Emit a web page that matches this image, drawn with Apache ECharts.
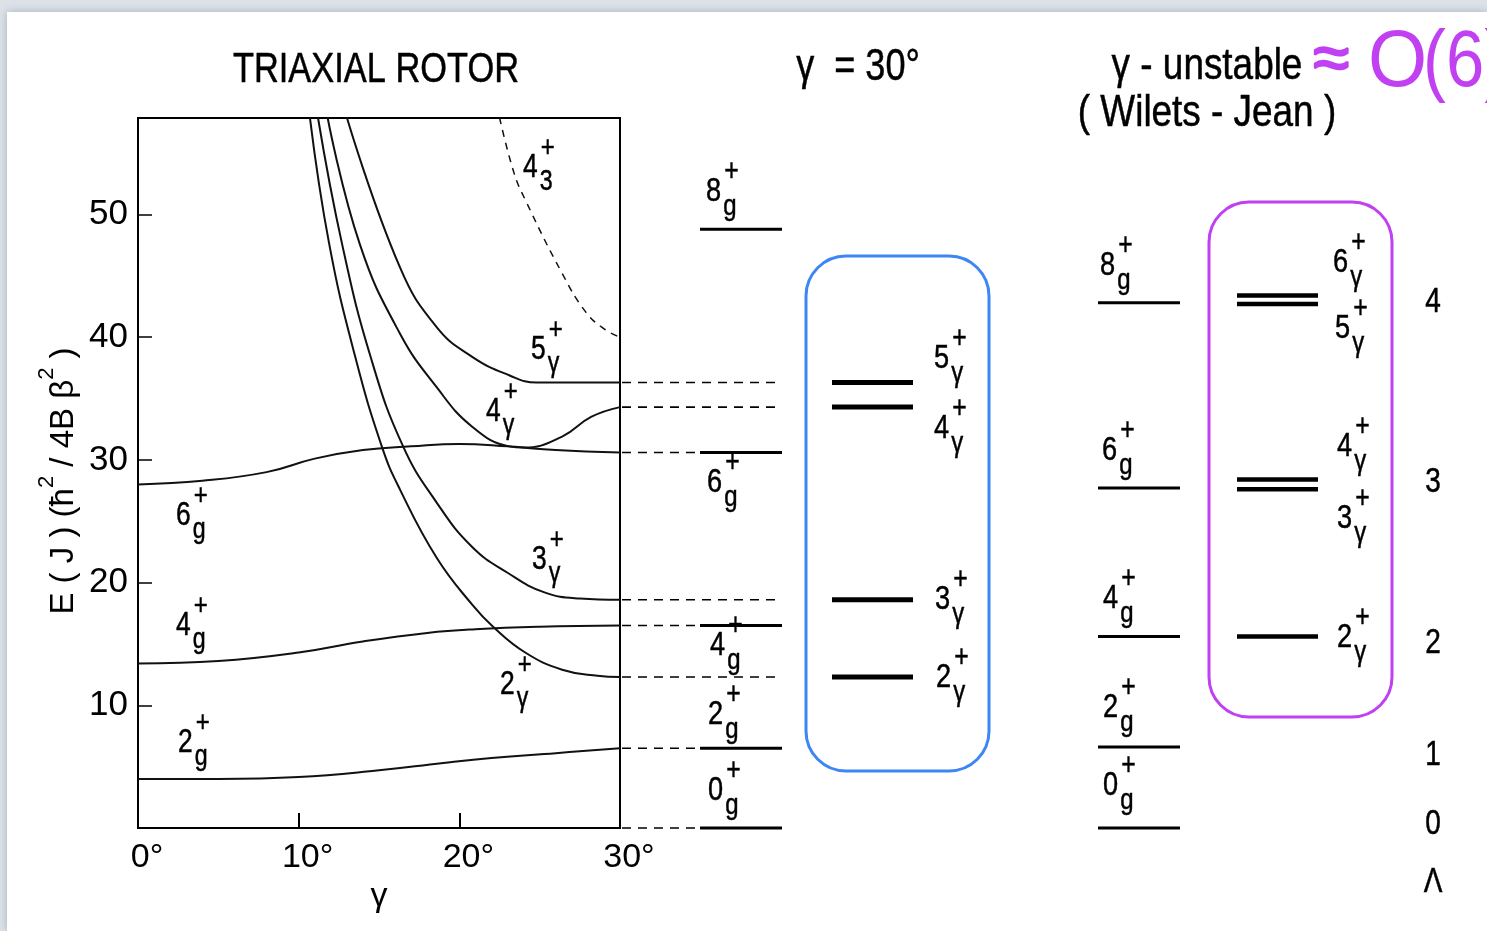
<!DOCTYPE html>
<html>
<head>
<meta charset="utf-8">
<script src="https://cdn.jsdelivr.net/npm/echarts@6/dist/echarts.min.js"></script>
<style>
  html, body { margin: 0; padding: 0; background: #dde2e9; }
  #chart { width: 1487px; height: 931px; }
</style>
</head>
<body>
<div id="chart"></div>
<script>
// ---------------- data ----------------
const gammaTicks = [0, 10, 20, 30];
const energyTicks = [10, 20, 30, 40, 50];

// Triaxial rotor: E(J) in units of hbar^2/4B beta^2 as a function of gamma (deg)
const ground2 = [[0, 4.0], [5, 4.0], [10, 4.15], [15, 4.7], [19, 5.3], [22, 5.7], [26, 6.1], [30, 6.5]];
const ground4 = [[0, 13.4], [5, 13.6], [10, 14.3], [14, 15.2], [18, 15.9], [21, 16.2], [25, 16.4], [30, 16.5]];
const ground6 = [[0, 28.0], [4, 28.3], [8, 29.0], [11, 30.1], [14, 30.8], [17, 31.1], [20, 31.3], [23, 31.1], [26, 30.8], [30, 30.6]];
const gamma2 = [[10.7, 57.9], [11.9, 47.6], [13.5, 38.5], [15.2, 31.0], [16.3, 27.6], [18.6, 22.0], [20.8, 18.2], [22.1, 16.4], [24.1, 14.3], [26.4, 12.9], [28.6, 12.4], [30, 12.3]];
const gamma3 = [[11.2, 57.9], [12.7, 47.6], [14.5, 38.3], [16.5, 31.1], [18.6, 26.5], [20.8, 22.9], [23.0, 20.8], [25.3, 19.2], [27.5, 18.7], [30, 18.6]];
const gamma4 = [[11.8, 57.9], [13.8, 47.6], [16.3, 40.3], [18.6, 35.9], [20.8, 32.7], [23.1, 31.1], [24.0, 31.0], [26.4, 31.9], [28.2, 33.5], [30, 34.3]];
const gamma5 = [[13.0, 57.9], [16.3, 45.7], [18.6, 40.8], [20.8, 38.4], [23.1, 36.9], [24.8, 36.3], [30, 36.3]];
const third4 = [[22.5, 57.9], [23.4, 53.4], [24.1, 51.2], [26.4, 45.2], [27.9, 42.0], [29.1, 40.6], [30, 40.0]];

// Levels at gamma = 30 deg
const rotorGroundJ = [0, 2, 4, 6, 8];
const rotorGroundE = [0, 6.5, 16.5, 30.6, 48.8];
const rotorGammaJ = [2, 3, 4, 5];
const rotorGammaE = [12.3, 18.6, 34.3, 36.3];

// gamma-unstable (Wilets-Jean) levels
const unstableGroundJ = [0, 2, 4, 6, 8];
const unstableGroundE = [0, 6.6, 15.6, 27.7, 42.8];
const unstableGammaJ = [2, 3, 4, 5, 6];
const unstableGammaE = [15.6, 27.6, 28.4, 42.7, 43.4];
const tauLabels = ['0', '1', '2', '3', '4', 'Λ'];

// ---------------- layout ----------------
const FONT = "'Liberation Sans', Arial, sans-serif";
const NARROW = 0.8;            // horizontal squeeze for a narrow typeface look
const E_MAX = 57.86;
const PURPLE = '#c040f2';
const BLUE = '#3d87f4';

// horizontal extents (pixels from the right edge of the rotor frame) of the level columns
const COL = { conn: 2, gL: 80, gR: 162, yL: 212, yR: 293, uGL: 478, uGR: 560, uYL: 617, uYR: 698 };
const SEG = [
  { w: 3 },                 // ground-band level
  { w: 1.6, dash: [9, 7] }, // dashed connector
  { w: 5 },                 // gamma-band level (gamma = 30)
  { w: 4.5 }                // gamma-band level (gamma-unstable)
];

// label anchors: [left x of the spin digit, vertical centre of the digit]
const leftLabelPos = {
  third4: [523, 167], gamma5: [531, 349], gamma4: [486, 411], ground6: [176, 515],
  ground4: [176, 625], ground2: [178, 742], gamma3: [532, 559], gamma2: [500, 684]
};
const rotorGroundPos = [[708, 790], [708, 714], [710, 645], [707, 482], [706, 191]];
const rotorGammaPos = [[936, 677], [935, 599], [934, 428], [934, 358]];
const unstableGroundPos = [[1103, 785], [1103, 707], [1103, 598], [1102, 450], [1100, 265]];
const unstableGammaPos = [[1337, 637], [1337, 518], [1337, 446], [1335, 328], [1333, 262]];
const tauPos = [824, 755, 643, 482, 302, 882];

// ---------------- helpers ----------------
const mctx = document.createElement('canvas').getContext('2d');
function textWidth(t, size, fam) { mctx.font = size + 'px ' + fam; return mctx.measureText(t).width; }

// text element; y is the visual centre of capitals/digits
function text(x, y, t, size, opt) {
  opt = opt || {};
  const fam = opt.family || FONT;
  const sx = opt.scale === undefined ? NARROW : opt.scale;
  const col = opt.color || '#000';
  const lw = opt.weight === undefined ? 0.5 : opt.weight;
  return {
    type: 'text', x: x, y: y + size * 0.02, z: 20, silent: true,
    scaleX: sx,
    style: {
      text: t, fill: col, font: size + 'px ' + fam,
      stroke: lw > 0 ? col : null, lineWidth: lw,
      textAlign: opt.align || 'left', align: opt.align || 'left',
      textVerticalAlign: 'middle', verticalAlign: 'middle'
    }
  };
}

// spin label: digit with subscript band letter and superscript parity
function levelLabel(pos, main, sub, size) {
  const x = pos[0], yc = pos[1];
  const sx = x + textWidth(main, size, FONT) * NARROW + size * 0.06;
  return [
    text(x, yc, main, size),
    text(sx, yc + size * 0.45, sub, Math.round(size * 0.88)),
    text(sx + 1, yc - size * 0.56, '+', Math.round(size * 0.9))
  ];
}

// ---------------- series ----------------
function curve(data, dashed) {
  return {
    type: 'line', xAxisIndex: 0, yAxisIndex: 0, data: data,
    smooth: 0.45, showSymbol: false, symbol: 'none', clip: true,
    lineStyle: { color: '#111', width: dashed ? 1.5 : 2, type: dashed ? [7, 6] : 'solid' },
    silent: true, z: 3
  };
}

const segments = [];
rotorGroundE.forEach((e, i) => {
  segments.push([COL.gL, COL.gR, e, 0]);
  if (rotorGroundJ[i] <= 6) segments.push([COL.conn, COL.gL, e, 1]);
});
rotorGammaE.forEach(e => {
  segments.push([COL.conn, COL.gR, e, 1]);
  segments.push([COL.yL, COL.yR, e, 2]);
});
unstableGroundE.forEach(e => segments.push([COL.uGL, COL.uGR, e, 0]));
unstableGammaE.forEach(e => segments.push([COL.uYL, COL.uYR, e, 3]));

const levelSeries = {
  type: 'custom', xAxisIndex: 1, yAxisIndex: 1, data: segments, silent: true, z: 4,
  renderItem: function (params, api) {
    const p1 = api.coord([api.value(0), api.value(2)]);
    const p2 = api.coord([api.value(1), api.value(2)]);
    const st = SEG[api.value(3)];
    return {
      type: 'line',
      shape: { x1: p1[0], y1: p1[1], x2: p2[0], y2: p2[1] },
      style: { stroke: '#000', lineWidth: st.w, lineDash: st.dash || null }
    };
  }
};

// ---------------- graphics ----------------
const g = [];
g.push({ type: 'rect', z: -10, silent: true, shape: { x: 7, y: 12, width: 1480, height: 919 },
  style: { fill: '#ffffff', shadowBlur: 8, shadowColor: 'rgba(70,80,100,0.35)' } });

g.push(text(376, 69, 'TRIAXIAL ROTOR', 43, { align: 'center' }));
g.push(text(858, 67, 'γ  = 30°', 44, { align: 'center', scale: 0.82 }));
g.push(text(1207, 66, 'γ - unstable', 45, { align: 'center', scale: 0.82 }));
g.push(text(1207, 113, '( Wilets - Jean )', 45, { align: 'center', scale: 0.82 }));
g.push(text(1313, 60, '≈', 66, { color: PURPLE, scale: 1, weight: 2.2 }));
g.push(text(1368, 62, 'O', 80, { color: PURPLE, scale: 0.95, weight: 0 }));
g.push(text(1423, 62, '(6)', 80, { color: PURPLE, scale: 0.86, weight: 0 }));

g.push({ type: 'rect', z: 15, silent: true, shape: { x: 806, y: 256, width: 183, height: 515, r: 40 },
  style: { fill: 'none', stroke: BLUE, lineWidth: 3 } });
g.push({ type: 'rect', z: 15, silent: true, shape: { x: 1209, y: 202, width: 183, height: 515, r: 40 },
  style: { fill: 'none', stroke: PURPLE, lineWidth: 3 } });

const LS = 33;
g.push(...levelLabel(leftLabelPos.third4, '4', '3', LS));
g.push(...levelLabel(leftLabelPos.gamma5, '5', 'γ', LS));
g.push(...levelLabel(leftLabelPos.gamma4, '4', 'γ', LS));
g.push(...levelLabel(leftLabelPos.gamma3, '3', 'γ', LS));
g.push(...levelLabel(leftLabelPos.gamma2, '2', 'γ', LS));
g.push(...levelLabel(leftLabelPos.ground6, '6', 'g', LS));
g.push(...levelLabel(leftLabelPos.ground4, '4', 'g', LS));
g.push(...levelLabel(leftLabelPos.ground2, '2', 'g', LS));

rotorGroundJ.forEach((j, i) => g.push(...levelLabel(rotorGroundPos[i], String(j), 'g', 34)));
rotorGammaJ.forEach((j, i) => g.push(...levelLabel(rotorGammaPos[i], String(j), 'γ', 34)));
unstableGroundJ.forEach((j, i) => g.push(...levelLabel(unstableGroundPos[i], String(j), 'g', 34)));
unstableGammaJ.forEach((j, i) => g.push(...levelLabel(unstableGammaPos[i], String(j), 'γ', 34)));
tauLabels.forEach((t, i) => g.push(text(1433, tauPos[i], t, 35, { align: 'center' })));

// ---------------- chart ----------------
const chart = echarts.init(document.getElementById('chart'), null, { renderer: 'canvas', width: 1487, height: 931 });
chart.setOption({
  backgroundColor: '#dde2e9',
  animation: false,
  grid: [
    { left: 138, top: 118, width: 482, height: 710, show: true, borderColor: '#000', borderWidth: 2, backgroundColor: 'rgba(0,0,0,0)' },
    { left: 620, top: 118, width: 867, height: 710, show: false }
  ],
  xAxis: [
    {
      type: 'value', gridIndex: 0, min: 0, max: 30,
      axisLine: { show: true, onZero: false, lineStyle: { color: '#000', width: 2 } },
      axisTick: { show: true, inside: true, length: 15, customValues: [10, 20], lineStyle: { color: '#000', width: 2 } },
      axisLabel: { customValues: gammaTicks, formatter: v => v + '°', fontSize: 34, fontFamily: FONT, color: '#000', margin: 13, padding: [0, 0, 0, 18] },
      splitLine: { show: false },
      name: 'γ', nameLocation: 'middle', nameGap: 50,
      nameTextStyle: { fontSize: 34, fontFamily: FONT, color: '#000' }
    },
    { type: 'value', gridIndex: 1, min: 0, max: 867, show: false }
  ],
  yAxis: [
    {
      type: 'value', gridIndex: 0, min: 0, max: E_MAX,
      axisLine: { show: true, onZero: false, lineStyle: { color: '#000', width: 2 } },
      axisTick: { show: true, inside: true, length: 14, customValues: energyTicks, lineStyle: { color: '#000', width: 1.5 } },
      axisLabel: { customValues: energyTicks, fontSize: 35, fontFamily: FONT, color: '#000', margin: 10 },
      splitLine: { show: false },
      name: '{a|E ( J ) (ħ}{s|2}{a| / 4B β}{s|2}{a| )}',
      nameLocation: 'middle', nameRotate: 90, nameGap: 58,
      nameTextStyle: {
        color: '#000', fontFamily: FONT, fontSize: 33, padding: [0, 16, 0, 0],
        rich: {
          a: { fontSize: 33, fontFamily: FONT, color: '#000', lineHeight: 44, verticalAlign: 'bottom' },
          s: { fontSize: 22, fontFamily: FONT, color: '#000', lineHeight: 22, verticalAlign: 'top' }
        }
      }
    },
    { type: 'value', gridIndex: 1, min: 0, max: E_MAX, show: false }
  ],
  series: [
    curve(ground2), curve(ground4), curve(ground6),
    curve(gamma2), curve(gamma3), curve(gamma4), curve(gamma5),
    curve(third4, true),
    levelSeries
  ],
  graphic: { elements: g }
});
</script>
</body>
</html>
